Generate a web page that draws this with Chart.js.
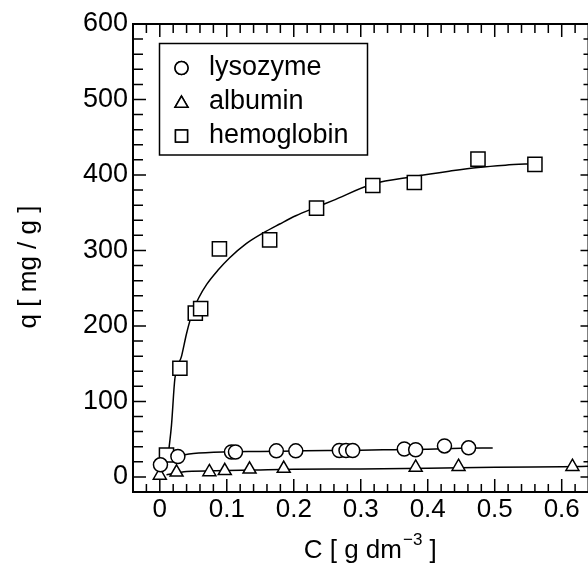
<!DOCTYPE html>
<html><head><meta charset="utf-8">
<script src="https://cdn.jsdelivr.net/npm/chart.js@4/dist/chart.umd.min.js"></script>
<style>
html,body{margin:0;padding:0;background:#fff;overflow:hidden;width:588px;height:564px;}
#wrap{width:600px;height:564px;position:relative;}
</style></head><body>
<div id="wrap"><canvas id="c" width="600" height="564"></canvas></div>
<script>
// ---- data ----
const lysozymeC = [0.001, 0.027, 0.107, 0.113, 0.174, 0.203, 0.268, 0.278, 0.288, 0.365, 0.382, 0.425, 0.461];
const lysozymeQ = [16, 27, 33, 33, 34.5, 34.5, 35, 35, 35, 37, 36, 41, 38.5];
const albuminC = [0.000, 0.025, 0.074, 0.097, 0.134, 0.185, 0.382, 0.446, 0.616];
const albuminQ = [2, 6, 6.5, 8, 10, 11, 12.5, 13.5, 13.5];
const hemoglobinC = [0.010, 0.030, 0.053, 0.061, 0.089, 0.164, 0.234, 0.318, 0.380, 0.475, 0.560];
const hemoglobinQ = [29, 144, 217, 223, 302, 314, 356, 386, 390, 421, 414];

// fitted curves
const lysoFitC = [0.027, 0.05, 0.1, 0.15, 0.2, 0.25, 0.3, 0.35, 0.4, 0.45, 0.497];
const lysoFitQ = [28, 31, 33.2, 33.7, 34.3, 34.9, 35.4, 36.1, 36.8, 37.8, 38.3];
const albFitC = [0.01, 0.04, 0.1, 0.15, 0.2, 0.3, 0.4, 0.5, 0.6, 0.64];
const albFitQ = [3, 7, 8.5, 9.3, 10, 10.6, 11.5, 12.8, 13.6, 14];
const hemoFitC = [0.0135, 0.0174, 0.0225, 0.0325, 0.0397, 0.045, 0.050, 0.058, 0.070, 0.087, 0.104, 0.129, 0.154, 0.179, 0.203, 0.233, 0.258, 0.318, 0.380, 0.432, 0.475, 0.516, 0.560];
const hemoFitQ = [36, 68, 130, 160, 189, 207, 221, 237, 255, 274, 290, 309, 323, 335, 346, 357, 366, 388, 398, 405, 410, 413, 415];

const seriesNames = ['lysozyme', 'albumin', 'hemoglobin'];
const xTickValues = [0, 0.1, 0.2, 0.3, 0.4, 0.5, 0.6];
const yTickValues = [0, 100, 200, 300, 400, 500, 600];
const xTitle = ['C [ g dm', '\u22123', ' ]'];
const yTitle = 'q [ mg / g ]';

const FONT = '"Liberation Sans", Arial, Helvetica, sans-serif';
const pts = (xs, ys) => xs.map((v, i) => ({x: v, y: ys[i]}));

const markerStyle = {
  backgroundColor: '#fff', borderColor: '#000', borderWidth: 1.5,
  showLine: false, order: 0
};
const lineStyle = {
  borderColor: '#000', borderWidth: 1.5, pointRadius: 0, showLine: true,
  fill: false, cubicInterpolationMode: 'monotone', order: 1
};

const legendItems = [
  {name: seriesNames[0], style: 'circle', r: 6.5},
  {name: seriesNames[1], style: 'triangle', r: 7.5},
  {name: seriesNames[2], style: 'rect', r: 8.5}
];

const decor = {
  id: 'decor',
  afterDraw(chart) {
    const {ctx, chartArea: a, scales: {x, y}} = chart;
    ctx.save();
    ctx.strokeStyle = '#000';
    // frame
    ctx.lineWidth = 2;
    ctx.strokeRect(a.left, a.top, a.right - a.left, a.bottom - a.top);
    // ticks
    ctx.lineWidth = 1.5;
    ctx.beginPath();
    for (let i = -1; i <= 31; i++) {
      const px = x.getPixelForValue(i * 0.02);
      const major = i % 5 === 0;
      ctx.moveTo(px, a.bottom); ctx.lineTo(px, a.bottom - (major ? 13 : 8));
      ctx.moveTo(px, a.top); ctx.lineTo(px, a.top + (major ? 13 : 9));
    }
    for (let i = 0; i <= 30; i++) {
      const py = y.getPixelForValue(i * 20);
      const major = i % 5 === 0;
      ctx.moveTo(a.left, py); ctx.lineTo(a.left + (major ? 13 : 10), py);
      ctx.moveTo(a.right, py); ctx.lineTo(a.right - (major ? 8 : 5), py);
    }
    ctx.stroke();
    // legend
    ctx.lineWidth = 1.5;
    ctx.strokeRect(159.5, 43.5, 208, 111.5);
    ctx.fillStyle = '#000';
    ctx.font = '27px ' + FONT;
    ctx.textBaseline = 'middle';
    ctx.textAlign = 'left';
    legendItems.forEach((it, k) => {
      const cy = 68 + k * 34;
      ctx.fillStyle = '#fff';
      Chart.helpers.drawPoint(ctx, {pointStyle: it.style, radius: it.r, borderWidth: 1.5, rotation: 0}, 181.5, cy + (it.style === 'triangle' ? 1.5 : 0));
      ctx.fill(); ctx.stroke();
      ctx.fillStyle = '#000';
      ctx.fillText(it.name, 209, cy);
    });
    // x title with superscript
    ctx.textBaseline = 'alphabetic';
    const f1 = '26px ' + FONT, f2 = '17px ' + FONT;
    ctx.font = f1; const w1 = ctx.measureText(xTitle[0]).width; const w3 = ctx.measureText(xTitle[2]).width;
    ctx.font = f2; const w2 = ctx.measureText(xTitle[1]).width;
    let sx = (a.left + a.right) / 2 + 9 - (w1 + w2 + w3) / 2;
    ctx.font = f1; ctx.fillText(xTitle[0], sx, 558); sx += w1 + 1;
    ctx.font = f2; ctx.fillText(xTitle[1], sx, 545); sx += w2;
    ctx.font = f1; ctx.fillText(xTitle[2], sx, 558);
    // y title
    ctx.save();
    ctx.translate(29, 267);
    ctx.rotate(-Math.PI / 2);
    ctx.textAlign = 'center';
    ctx.textBaseline = 'middle';
    ctx.font = '26px ' + FONT;
    ctx.fillText(yTitle, 0, 0);
    ctx.restore();
    ctx.restore();
  }
};

new Chart(document.getElementById('c'), {
  type: 'scatter',
  data: {
    datasets: [
      {label: seriesNames[0], data: pts(lysozymeC, lysozymeQ), pointStyle: 'circle', pointRadius: 7, ...markerStyle},
      {label: seriesNames[1], data: pts(albuminC, albuminQ), pointStyle: 'triangle', pointRadius: 7.5, ...markerStyle},
      {label: seriesNames[2], data: pts(hemoglobinC, hemoglobinQ), pointStyle: 'rect', pointRadius: 10, ...markerStyle},
      {label: seriesNames[0] + ' fit', data: pts(lysoFitC, lysoFitQ), ...lineStyle},
      {label: seriesNames[1] + ' fit', data: pts(albFitC, albFitQ), ...lineStyle},
      {label: seriesNames[2] + ' fit', data: pts(hemoFitC, hemoFitQ), ...lineStyle}
    ]
  },
  options: {
    responsive: false,
    animation: false,
    devicePixelRatio: 1,
    layout: {padding: {top: 24, right: 10, bottom: 0, left: 0}},
    plugins: {legend: {display: false}, tooltip: {enabled: false}},
    scales: {
      x: {
        type: 'linear', min: -0.04, max: 0.64,
        afterFit: s => { s.height = 72; },
        afterBuildTicks: s => { s.ticks = xTickValues.map(v => ({value: v})); },
        grid: {display: false, drawTicks: false},
        border: {display: false},
        ticks: {autoSkip: false, maxRotation: 0, padding: 2, color: '#000',
          font: {size: 26, family: FONT},
          callback: v => (v === 0 ? '0' : Number(v).toFixed(1))}
      },
      y: {
        type: 'linear', min: -20, max: 600,
        afterFit: s => { s.width = 133; },
        afterBuildTicks: s => { s.ticks = yTickValues.map(v => ({value: v})); },
        grid: {display: false, drawTicks: false},
        border: {display: false},
        ticks: {autoSkip: false, padding: 5, color: '#000',
          font: {size: 27, family: FONT},
          callback: v => String(v)}
      }
    }
  },
  plugins: [decor]
});
</script>
</body></html>
